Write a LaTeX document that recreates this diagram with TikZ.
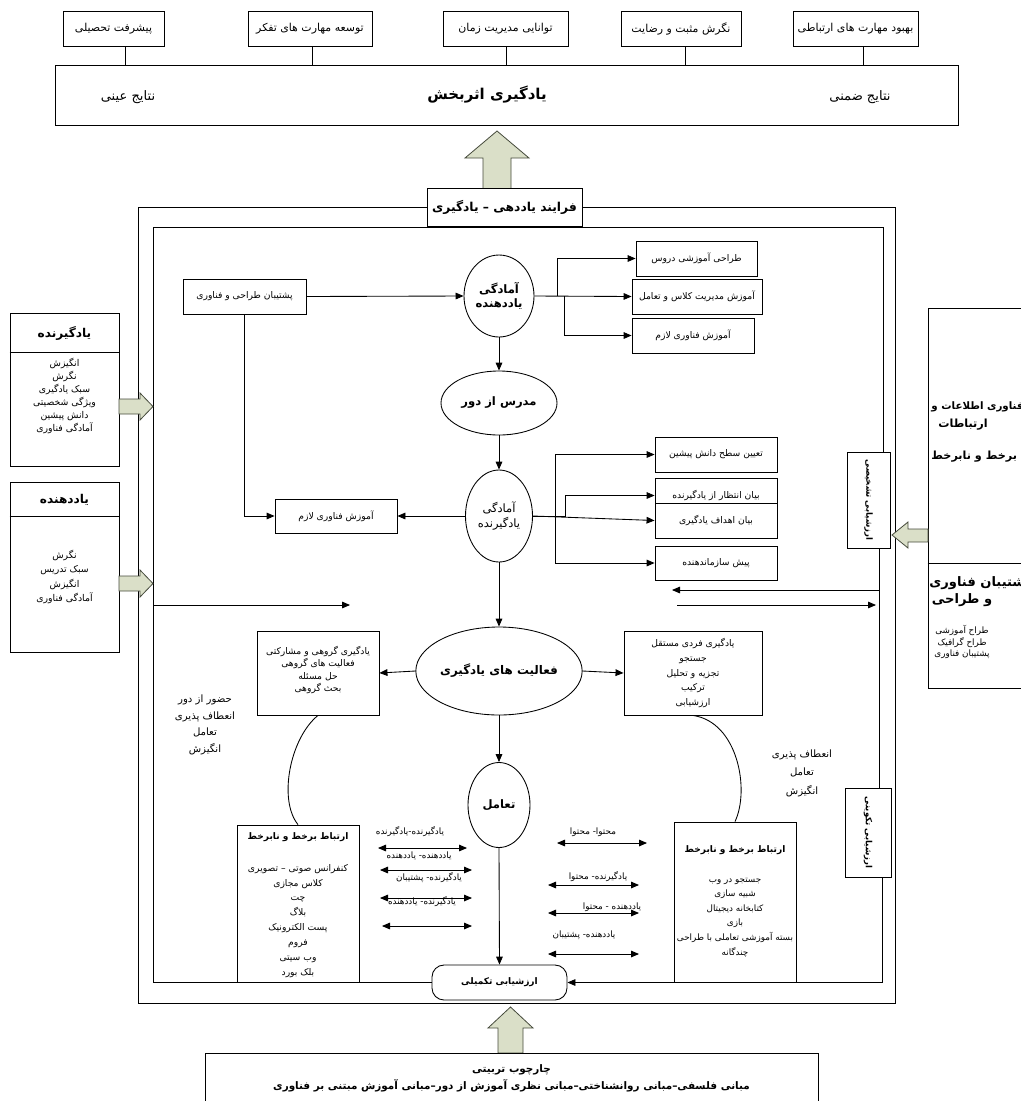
\documentclass[tikz,border=0pt]{standalone}
\usepackage{fontspec}
\usetikzlibrary{shapes.geometric,arrows.meta,calc}
\newfontfamily\fafont[Script=Arabic]{DejaVu Sans}
\TeXXeTstate=1
\newcommand\fa[1]{\beginR #1\endR}
\newcommand\px{0.75pt}
\newcommand\fsm{\fafont\fontsize{6.9}{8}\selectfont}
\newcommand\ftop{\fafont\fontsize{8.2}{10}\selectfont}
\newcommand\fxs{\fafont\fontsize{6.6}{7}\selectfont}
\newcommand\fbm{\fafont\bfseries\fontsize{8.7}{10.5}\selectfont}
\newcommand\fbs{\fafont\bfseries\fontsize{6.8}{8}\selectfont}
\newcommand\fbl{\fafont\bfseries\fontsize{11.2}{13}\selectfont}
\newcommand\fbr{\fafont\bfseries\fontsize{9.8}{12}\selectfont}
\definecolor{arrfill}{RGB}{218,223,200}
\definecolor{arrdraw}{RGB}{70,75,60}
\begin{document}
\begin{tikzpicture}[x=0.75pt,y=-0.75pt,line width=0.65pt,
  bx/.style={draw,fill=white,inner sep=1pt,align=center,font=\fsm},
  ell/.style={draw,fill=white,ellipse,inner sep=0pt,align=center,font=\fbm},
  txt/.style={inner sep=0pt,align=center,font=\fsm},
  arr/.style={-{Triangle[length=6pt,width=5pt]}},
  darr/.style={{Triangle[length=6pt,width=5pt]}-{Triangle[length=6pt,width=5pt]}},
  blk/.style={draw=arrdraw,fill=arrfill,line width=0.6pt,line join=miter}]
\useasboundingbox (0,0) rectangle (1021,1101);
\clip (0,0) rectangle (1021,1101);

% ---------- top outcomes ----------
\node[bx,font=\ftop,minimum width=101*\px,minimum height=35*\px] (t1) at (113.5,28.5) {\fa{پیشرفت تحصیلی}};
\node[bx,font=\ftop,minimum width=124*\px,minimum height=35*\px] (t2) at (310,28.5) {\fa{توسعه مهارت های تفکر}};
\node[bx,font=\ftop,minimum width=125*\px,minimum height=35*\px] (t3) at (505.5,28.5) {\fa{توانایی مدیریت زمان}};
\node[bx,font=\ftop,minimum width=120*\px,minimum height=35*\px] (t4) at (681,28.5) {\fa{نگرش مثبت و رضایت}};
\node[bx,font=\ftop,minimum width=125*\px,minimum height=35*\px] (t5) at (855.5,28.5) {\fa{بهبود مهارت های ارتباطی}};
\node[bx,minimum width=903*\px,minimum height=60*\px] (main) at (506.5,95) {};
\node[txt,font=\fbl] (mt) at (487,95) {\fa{یادگیری اثربخش}};
\node[txt,font=\fafont\fontsize{9.8}{12}\selectfont] (m1) at (128,97) {\fa{نتایج عینی}};
\node[txt,font=\fafont\fontsize{9.8}{12}\selectfont] (m2) at (860,97) {\fa{نتایج ضمنی}};
\coordinate (v1) at (125,0); \coordinate (v2) at (312,0); \coordinate (v3) at (506,0);
\coordinate (v4) at (685,0); \coordinate (v5) at (863,0);
\foreach \i in {1,...,5} {\draw (t\i.south -| v\i) -- (main.north -| v\i);}

% big arrow up (to outcomes)
\draw[blk] (497,131) -- (529,158) -- (511,158) -- (511,189) -- (483,189) -- (483,158) -- (465,158) -- cycle;

% ---------- frames ----------
\node[bx,font=\fafont\bfseries\fontsize{9.2}{11}\selectfont,minimum width=155*\px,minimum height=38*\px] (lab) at (504.5,207) {\fa{فرایند یاددهی – یادگیری}};
\draw (lab.west) -| (138,1003) -| (895,207) -- (lab.east);

% ---------- evaluation boxes ----------
\node[bx,minimum width=43*\px,minimum height=96*\px] (ed) at (868.5,500) {};
\node[txt,font=\fafont\bfseries\fontsize{6.4}{8}\selectfont,rotate=-90] (edt) at (868.5,500) {\fa{ارزشیابی تشخیصی}};
\node[bx,minimum width=46*\px,minimum height=89*\px] (ef) at (868,832.5) {};
\node[txt,font=\fafont\bfseries\fontsize{6.4}{8}\selectfont,rotate=-90] (eft) at (868,832.5) {\fa{ارزشیابی تکوینی}};
\node[bx,font=\fbs,rounded corners=12*\px,minimum width=135*\px,minimum height=35*\px] (tk) at (499.5,982.5) {\fa{ارزشیابی تکمیلی}};

\coordinate (rxa) at (883,0); \coordinate (rxb) at (879,0); \coordinate (rxc) at (882,0);
\draw (tk.west) -| (153,227) -- (883,227) -- (ed.north -| rxa);
\draw (ed.south -| rxb) -- (ef.north -| rxb);
\draw[arr] (ef.south -| rxc) |- (tk.east);

% ---------- left input boxes ----------
\node[bx,minimum width=109*\px,minimum height=153*\px] (lr) at (64.5,389.5) {};
\coordinate (hl1) at (0,352);
\draw (lr.west |- hl1) -- (lr.east |- hl1);
\node[txt,font=\fafont\bfseries\fontsize{9.1}{11}\selectfont] (lrt) at (64.5,333) {\fa{یادگیرنده}};
\node[txt,font=\fafont\fontsize{7}{9.75}\selectfont] (lrb) at (64.5,396) {\fa{انگیزش}\\\fa{نگرش}\\\fa{سبک یادگیری}\\\fa{ویژگی شخصیتی}\\\fa{دانش پیشین}\\\fa{آمادگی فناوری}};

\node[bx,minimum width=109*\px,minimum height=170*\px] (td) at (64.5,567) {};
\coordinate (hl2) at (0,516);
\draw (td.west |- hl2) -- (td.east |- hl2);
\node[txt,font=\fafont\bfseries\fontsize{9.1}{11}\selectfont] (tdt) at (64.5,500) {\fa{یاددهنده}};
\node[txt,font=\fafont\fontsize{7}{10.7}\selectfont] (tdb) at (64.5,577) {\fa{نگرش}\\\fa{سبک تدریس}\\\fa{انگیزش}\\\fa{آمادگی فناوری}};

\draw[blk] (119,399) -- (140,399) -- (140,393) -- (153,406.5) -- (140,420) -- (140,414) -- (119,414) -- cycle;
\draw[blk] (119,576) -- (140,576) -- (140,570) -- (153,583.5) -- (140,597) -- (140,591) -- (119,591) -- cycle;

% ---------- right input box ----------
\node[bx,minimum width=112*\px,minimum height=380*\px] (rb) at (984,498) {};
\coordinate (hr) at (0,563);
\draw (rb.west |- hr) -- (rb.east |- hr);
\node[txt,font=\fafont\bfseries\fontsize{7.7}{10}\selectfont,anchor=west] (r1) at (931,407) {\fa{فناوری اطلاعات و}};
\node[txt,font=\fafont\bfseries\fontsize{8.4}{10}\selectfont] (r2) at (963,425) {\fa{ارتباطات}};
\node[txt,font=\fafont\bfseries\fontsize{8.4}{10}\selectfont,anchor=west] (r3) at (931,457) {\fa{برخط و نابرخط}};
\node[txt,font=\fbr,anchor=west] (r4) at (929,583) {\fa{پشتیبان فناوری}};
\node[txt,font=\fbr] (r5) at (962,600) {\fa{و طراحی}};
\node[txt,font=\fafont\fontsize{6.6}{8.6}\selectfont] (r6) at (962,642) {\fa{طراح آموزشی}\\\fa{طراح گرافیک}\\\fa{پشتیبان فناوری}};
\draw[blk] (892,535) -- (908,522) -- (908,529) -- (928,529) -- (928,542) -- (908,542) -- (908,548) -- cycle;

% ---------- teacher preparation ----------
\node[bx,minimum width=123*\px,minimum height=35*\px] (ps) at (244.5,296.5) {\fa{پشتیبان طراحی و فناوری}};
\node[ell,minimum width=70*\px,minimum height=82*\px] (ay) at (499,296) {\fa{آمادگی}\\\fa{یاددهنده}};
\draw[arr] (ps.east) -- (ay.west);
\node[bx,minimum width=121*\px,minimum height=35*\px] (b1) at (696.5,258.5) {\fa{طراحی آموزشی دروس}};
\node[bx,minimum width=130*\px,minimum height=35*\px] (b2) at (697,296.5) {\fa{آموزش مدیریت کلاس و تعامل}};
\node[bx,minimum width=122*\px,minimum height=35*\px] (b3) at (693,335.5) {\fa{آموزش فناوری لازم}};
\coordinate (j1) at (557,0); \coordinate (j2) at (564,0);
\draw[arr] (ay.east) -- (b2.west);
\draw[arr] (ay.east -| j1) |- (b1.west);
\draw[arr] (ay.east -| j2) |- (b3.west);

\node[ell,minimum width=116*\px,minimum height=64*\px] (md) at (499,403) {\fa{مدرس از دور}};
\draw[arr] (ay.south) -- (md.north);

% ---------- learner preparation ----------
\node[ell,font=\fafont\fontsize{8.6}{11}\selectfont,minimum width=67*\px,minimum height=92*\px] (ag) at (499,516) {\fa{آمادگی}\\\fa{یادگیرنده}};
\draw[arr] (md.south) -- (ag.north);
\node[bx,minimum width=122*\px,minimum height=34*\px] (lf) at (336,516) {\fa{آموزش فناوری لازم}};
\draw[arr] (ag.west) -- (lf.east);
\draw[arr] (ps.south) |- (lf.west);

\node[bx,minimum width=122*\px,minimum height=35*\px] (c1) at (716,454.5) {\fa{تعیین سطح دانش پیشین}};
\node[bx,minimum width=122*\px,minimum height=35*\px] (c2) at (716,495.5) {\raisebox{1.5pt}{\fa{بیان انتظار از یادگیرنده}}};
\node[bx,minimum width=122*\px,minimum height=35*\px] (c3) at (716,520.5) {\fa{بیان اهداف یادگیری}};
\node[bx,minimum width=122*\px,minimum height=34*\px] (c4) at (716,563) {\fa{پیش سازماندهنده}};
\coordinate (j3) at (565,0); \coordinate (j5) at (555,0);
\draw[arr] (ag.east) -- (ag.east -| j3) |- (c2.west);
\draw[arr] (ag.east) -- (c3.west);
\draw (c1.west -| j5) -- (c4.west -| j5);
\draw[arr] (c1.west -| j5) -- (c1.west);
\draw[arr] (c4.west -| j5) -- (c4.west);

% side arrows
\coordinate (a1s) at (879,590); \coordinate (a1e) at (672,590);
\coordinate (a2s) at (677,605); \coordinate (a2e) at (876,605);
\coordinate (a3s) at (153,605); \coordinate (a3e) at (350,605);
\draw[arr] (a1s) -- (a1e);
\draw[arr] (a2s) -- (a2e);
\draw[arr] (a3s) -- (a3e);

% ---------- learning activities ----------
\node[ell,font=\fafont\bfseries\fontsize{8.9}{11}\selectfont,minimum width=128*\px,minimum height=88*\px] (fa) at (499,671) {\fa{فعالیت های یادگیری}};
\draw[arr] (ag.south) -- (fa.north);
\node[bx,minimum width=122*\px,minimum height=84*\px] (g1) at (318,673) {};
\node[txt,font=\fafont\fontsize{6.9}{9.2}\selectfont,anchor=north] (g1t) at (318,646) {\fa{یادگیری گروهی و مشارکتی}\\\fa{فعالیت های گروهی}\\\fa{حل مسئله}\\\fa{بحث گروهی}};
\node[bx,minimum width=138*\px,minimum height=84*\px] (g2) at (693,673) {};
\node[txt,font=\fafont\fontsize{6.9}{10.9}\selectfont] (g2t) at (693,673) {\fa{یادگیری فردی مستقل}\\\fa{جستجو}\\\fa{تجزیه و تحلیل}\\\fa{ترکیب}\\\fa{ارزشیابی}};
\draw[arr] (fa.west) -- (g1.east);
\draw[arr] (fa.east) -- (g2.west);

\node[txt,font=\fafont\fontsize{7.6}{12.5}\selectfont] (tx1) at (205,725) {\fa{حضور از دور}\\\fa{انعطاف پذیری}\\\fa{تعامل}\\\fa{انگیزش}};
\node[txt,font=\fafont\fontsize{7.6}{13.9}\selectfont] (tx2) at (802,773) {\fa{انعطاف پذیری}\\\fa{تعامل}\\\fa{انگیزش}};

% ---------- interaction ----------
\node[ell,minimum width=62*\px,minimum height=85*\px] (ta) at (499,805) {\fa{تعامل}};
\draw[arr] (fa.south) -- (ta.north);
\draw[arr] (ta.south) -- (tk.north);

\node[bx,minimum width=122*\px,minimum height=157*\px] (e1) at (298,903.5) {};
\node[txt,font=\fbs] (e1t) at (298,837) {\fa{ارتباط برخط و نابرخط}};
\node[txt,font=\fafont\fontsize{6.9}{11.2}\selectfont] (e1b) at (298,921) {\fa{کنفرانس صوتی – تصویری}\\\fa{کلاس مجازی}\\\fa{چت}\\\fa{بلاگ}\\\fa{پست الکترونیک}\\\fa{فروم}\\\fa{وب سیتی}\\\fa{بلک بورد}};
\node[bx,minimum width=122*\px,minimum height=160*\px] (e2) at (735,902) {};
\node[txt,font=\fbs] (e2t) at (735,850) {\fa{ارتباط برخط و نابرخط}};
\node[txt,font=\fafont\fontsize{6.6}{10.95}\selectfont] (e2b) at (735,917.5) {\fa{جستجو در وب}\\\fa{شبیه سازی}\\\fa{کتابخانه دیجیتال}\\\fa{بازی}\\\fa{بسته آموزشی تعاملی با طراحی}\\\fa{چندگانه}};
\draw (g1.south) .. controls (290,738) and (278,800) .. (e1.north);
\draw (g2.south) .. controls (738,722) and (750,790) .. (e2.north);

% double arrows left
\coordinate (p1a) at (378,848); \coordinate (p1b) at (467,848);
\coordinate (p2a) at (380,870); \coordinate (p2b) at (472,870);
\coordinate (p3a) at (380,898); \coordinate (p3b) at (472,898);
\coordinate (p4a) at (382,926); \coordinate (p4b) at (472,926);
\foreach \i in {1,...,4} {\draw[darr] (p\i a) -- (p\i b);}
\node[txt,font=\fxs] (l1) at (410,832) {\fa{یادگیرنده-یادگیرنده}};
\node[txt,font=\fxs] (l2) at (419,856) {\fa{یاددهنده- یاددهنده}};
\node[txt,font=\fxs] (l3) at (429,878) {\fa{یادگیرنده- پشتیبان}};
\node[txt,font=\fxs] (l4) at (422,902) {\fa{یادگیرنده- یاددهنده}};

% double arrows right
\coordinate (q1a) at (557,843); \coordinate (q1b) at (647,843);
\coordinate (q2a) at (548,885); \coordinate (q2b) at (639,885);
\coordinate (q3a) at (548,913); \coordinate (q3b) at (639,913);
\coordinate (q4a) at (548,954); \coordinate (q4b) at (639,954);
\foreach \i in {1,...,4} {\draw[darr] (q\i a) -- (q\i b);}
\node[txt,font=\fxs] (s1) at (593,832) {\fa{محتوا- محتوا}};
\node[txt,font=\fxs] (s2) at (598,877) {\fa{یادگیرنده- محتوا}};
\node[txt,font=\fxs] (s3) at (612,907) {\fa{یاددهنده - محتوا}};
\node[txt,font=\fxs] (s4) at (584,935) {\fa{یاددهنده- پشتیبان}};

% ---------- bottom framework ----------
\draw[blk] (510.5,1007) -- (533,1028) -- (523,1028) -- (523,1053) -- (498,1053) -- (498,1028) -- (488,1028) -- cycle;
\node[bx,minimum width=613*\px,minimum height=62*\px] (bt) at (511.5,1084) {};
\node[txt,font=\fafont\bfseries\fontsize{7.8}{10}\selectfont] (bt1) at (511.5,1070) {\fa{چارچوب تربیتی}};
\node[txt,font=\fafont\bfseries\fontsize{7.8}{10}\selectfont] (bt2) at (511.5,1086) {\fa{مبانی فلسفی–مبانی روانشناختی–مبانی نظری آموزش از دور–مبانی آموزش مبتنی بر فناوری}};
\end{tikzpicture}
\end{document}
